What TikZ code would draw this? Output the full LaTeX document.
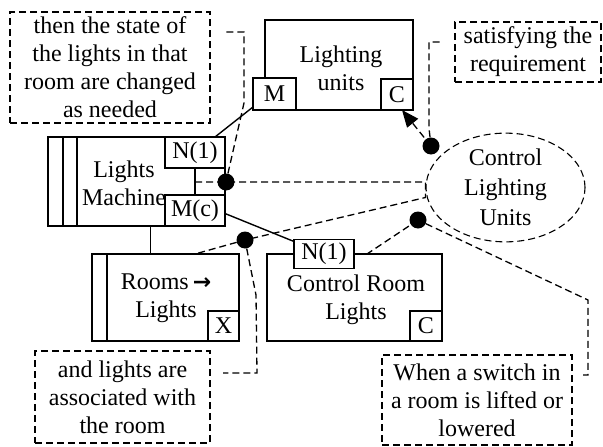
\documentclass[tikz,border=0pt]{standalone}
\usepackage{fontspec}
\setmainfont{Liberation Serif}
\newfontfamily\arrowfont{DejaVu Sans}
\usetikzlibrary{arrows.meta, positioning, calc, shapes.geometric}
\newcommand\figfont{\fontsize{24}{28}\selectfont}
\tikzset{
	dombox/.style={draw, line width=1.4pt, inner sep=0pt, outer sep=0pt},
	tagbox/.style={draw, line width=1.4pt, fill=white, inner sep=0pt, outer sep=0pt},
	notebox/.style={draw, line width=1.4pt, dash pattern=on 7pt off 4pt, inner sep=0pt, align=center},
	reqline/.style={line width=1.3pt, dash pattern=on 7pt off 4pt},
	dot/.style={circle, fill=black, minimum size=17pt, inner sep=0pt},
}

\begin{document}
\begin{tikzpicture}[
		x=1pt, y=-1pt,
		font=\figfont,
		stripe/.style={line width=1.4pt},
		>=Stealth
	]
	\useasboundingbox (0,0) rectangle (603,447);

	% machine
	\node[dombox, minimum width=177pt, minimum height=89pt, anchor=north west] (lm) at (48,137) {};
	\draw[stripe] ([xshift=15pt]lm.north west) -- ([xshift=15pt]lm.south west)
		([xshift=29pt]lm.north west) -- ([xshift=29pt]lm.south west);
	\node[align=center] (lmtxt) at (124,183) {Lights\\Machine};
	\node[tagbox, minimum width=60pt, minimum height=31pt, anchor=north east] (lmN) at (lm.north east) {N(1)};
	\node[tagbox, minimum width=60pt, minimum height=31pt, anchor=south east] (lmM) at (lm.south east) {M(c)};

	% domains
	\node[dombox, minimum width=148pt, minimum height=90pt, anchor=north west] (lu) at (265,20) {};
	\node[align=center] (lutxt) at (341,68) {Lighting\\units};
	\node[tagbox, minimum width=43pt, minimum height=32pt, anchor=south west] (luM) at ([xshift=-12pt]lu.south west) {M};
	\node[tagbox, minimum width=32pt, minimum height=31pt, anchor=south east] (luC) at (lu.south east) {C};

	\node[dombox, minimum width=147pt, minimum height=87pt, anchor=north west] (rooms) at (92,254) {};
	\draw[stripe] ([xshift=15pt]rooms.north west) -- ([xshift=15pt]rooms.south west);
	\node[align=center] (roomstxt) at (166,298) {Rooms\,{\arrowfont\bfseries\fontsize{22}{22}\selectfont →}\\Lights};
	\node[tagbox, minimum width=31pt, minimum height=30pt, anchor=south east] (roomsX) at (rooms.south east) {X};

	\node[dombox, minimum width=175pt, minimum height=87pt, anchor=north west] (crl) at (267,254) {};
	\node[align=center] (crltxt) at (356,300) {Control Room\\Lights};
	\node[tagbox, minimum width=60pt, minimum height=29pt, anchor=west] (crlN) at ([xshift=27pt]crl.north west) {N(1)};
	\node[tagbox, minimum width=32pt, minimum height=30pt, anchor=south east] (crlC) at (crl.south east) {C};

	% requirement
	\node[draw, ellipse, line width=1.1pt, dash pattern=on 7pt off 4pt, minimum width=159pt,
		minimum height=101pt, inner sep=0pt, align=center] (req) at (505.5,187.5)
		{Control\\[2pt]Lighting\\[2pt]Units};

	% notes
	\node[notebox, minimum width=200pt, minimum height=111pt] (note1) at (110,67.5)
		{then the state of\\the lights in that\\room are changed\\as needed};
	\node[notebox, minimum width=146pt, minimum height=60pt] (note2) at (528,52)
		{satisfying the\\requirement};
	\node[notebox, minimum width=175pt, minimum height=92pt] (note3) at (122.5,397)
		{and lights are\\associated with\\the room};
	\node[notebox, minimum width=190pt, minimum height=90pt] (note4) at (477,400)
		{When a switch in\\a room is lifted or\\lowered};

	% interfaces
	\draw[line width=1.4pt] ([xshift=-10pt]lmN.north east) -- ([yshift=3pt]luM.south west);
	\draw[line width=1.4pt] (lmN.south) -- (lmM.north);
	\draw[line width=1.4pt] ([yshift=-3pt]lmM.east) -- ([yshift=-2pt]crlN.north west);
	\draw[line width=1.4pt] ([xshift=14pt]lm.south) -- ([xshift=14pt]lm.south |- rooms.north);

	% annotation points
	\node[dot] (d1) at (226,182) {};
	\node[dot] (d2) at (245,240) {};
	\node[dot] (d3) at (418,220) {};
	\node[dot] (d4) at (431,146) {};

	\coordinate (reqA) at (req.west |- d1);
	\coordinate (reqB) at ([yshift=-10pt]req.west);
	\coordinate (roomsA) at (195,254);
	\coordinate (crlA) at ($(crl.north)+(12.5,0)$);

	% requirement references
	\draw[reqline] (lmN.south |- d1) -- (d1.center) -- (reqA) -- (reqB) -- (d2.center) -- (roomsA);
	\draw[reqline] (d3.center) -- (crlA);
	\draw[reqline, -{Triangle[length=17pt, width=14pt]}] (d4.center) -- ([xshift=5pt]luC.south);

	% note leaders
	\draw[reqline] (d1) -- (244,103) -- (244,32) -- (223,32);
	\draw[reqline] (d2) -- (256,295) -- (257,373) -- (223,373);
	\draw[reqline] (d3) -- (588,300) -- (588,375) -- (583,375);
	\draw[reqline] (d4) -- (429,128) -- (429,42) -- (440,42);
\end{tikzpicture}
\end{document}
